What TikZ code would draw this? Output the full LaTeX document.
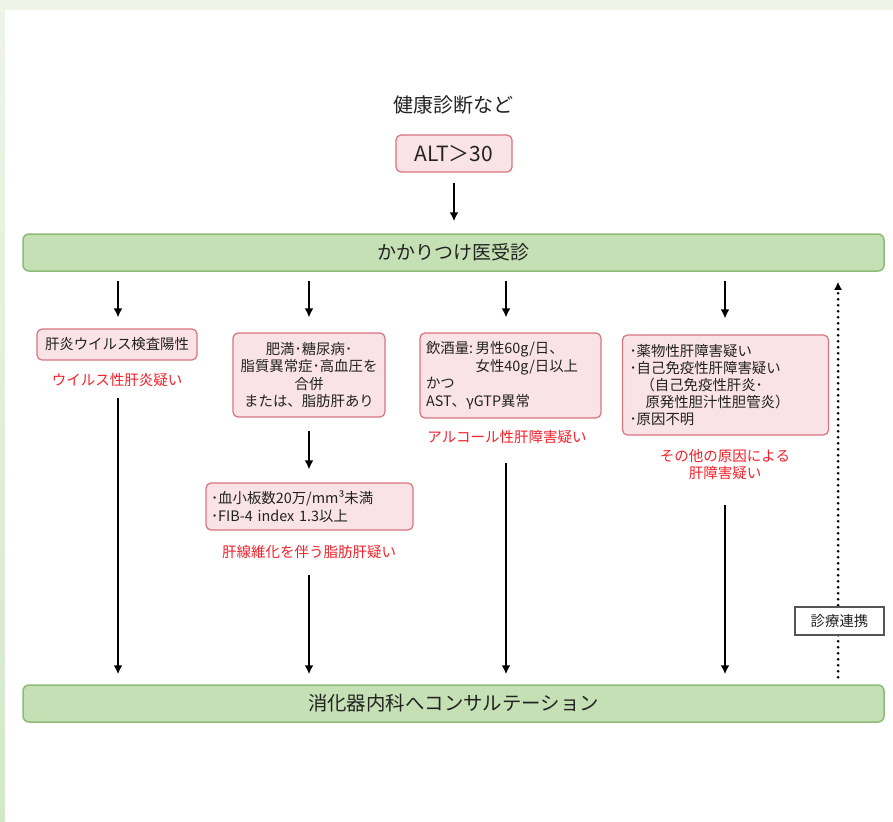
\documentclass[tikz,border=0pt]{standalone}
\usepackage{fontspec}
\setmainfont{Noto Sans CJK JP}
\usetikzlibrary{arrows.meta}
\definecolor{bandgreen}{HTML}{EEF5E8}
\definecolor{stripgreen}{HTML}{D4E8C8}
\definecolor{pinkfill}{HTML}{F9E3E6}
\definecolor{pinkdraw}{HTML}{D9737E}
\definecolor{barfill}{HTML}{C5E0B4}
\definecolor{bardraw}{HTML}{8DBB77}
\definecolor{redtxt}{HTML}{F5212B}
\definecolor{txt}{HTML}{222222}
\definecolor{linkdraw}{HTML}{555555}
\begin{document}
\begin{tikzpicture}[x=1pt,y=-1pt,
  every node/.style={text=txt},
  pinkbox/.style={draw=pinkdraw, fill=pinkfill, rounded corners=5pt, line width=1.2pt, inner sep=0pt, font=\fontsize{14.4}{17.5}\selectfont},
  bar/.style={draw=bardraw, fill=barfill, rounded corners=6pt, line width=1.5pt, minimum width=861pt, minimum height=37pt, inner sep=0pt, font=\fontsize{19}{21}\selectfont},
  redlbl/.style={text=redtxt, font=\fontsize{14.5}{17.5}\selectfont, align=center, inner sep=0pt},
  arr/.style={line width=2.4pt, -{Latex[length=9pt,width=9pt]}},
  dotarr/.style={line width=3pt, line cap=round, dash pattern=on 0pt off 6pt, -{Latex[length=8pt,width=8pt]}},
  linkbox/.style={draw=linkdraw, fill=white, line width=1.2pt, minimum width=89pt, minimum height=28pt, inner sep=0pt, font=\fontsize{14.4}{16}\selectfont}
]
% background
\fill[bandgreen] (0,0) rectangle (893,821);
\shade[top color=bandgreen, bottom color=stripgreen] (0,10) rectangle (5,821);
\fill[white] (5,10) rectangle (893,821);
\useasboundingbox (0,0) rectangle (893,821);

% columns
\coordinate (c1) at (118,0);
\coordinate (c2) at (309,0);
\coordinate (c3) at (506,0);
\coordinate (c4) at (725,0);
\coordinate (c5) at (838,0);

% top
\node[font=\fontsize{20}{22}\selectfont] (top) at (453.5,105) {健康診断など};
\node[pinkbox, minimum width=116pt, minimum height=37pt, font=\fontsize{21}{22}\selectfont] (alt) at (454,153.5) {ALT＞30};
\node[bar] (bar1) at (453.5,252.5) {かかりつけ医受診};
\node[bar, font=\fontsize{19.4}{21}\selectfont] (bar2) at (453.5,703.5) {消化器内科へコンサルテーション};

% column 1
\node[pinkbox, minimum width=160pt, minimum height=31pt] (b1) at (117,344.5) {肝炎ウイルス検査陽性};
\node[redlbl] (r1) at (117,380) {ウイルス性肝炎疑い};

% column 2
\node[pinkbox, minimum width=152pt, minimum height=84pt, align=center] (b2) at (309,375) {肥満･糖尿病･\\脂質異常症･高血圧を\\合併\\または、脂肪肝あり};
\node[pinkbox, minimum width=207pt, minimum height=47pt, inner xsep=5pt, text width=197pt, align=left] (b2b) at (309.5,506.5) {･血小板数20万/mm³未満\\･FIB-4 index 1.3以上};
\node[redlbl] (r2) at (309,552) {肝線維化を伴う脂肪肝疑い};

% column 3
\node[pinkbox, minimum width=181pt, minimum height=85pt, inner xsep=6pt, text width=169pt, align=left] (b3) at (510.5,375.5) {飲酒量:\,男性60g/日、\\\hphantom{飲酒量:\,}女性40g/日以上\\かつ\\AST、γGTP異常};
\node[redlbl] (r3) at (507,437) {アルコール性肝障害疑い};

% column 4
\node[pinkbox, minimum width=206pt, minimum height=100pt, inner xsep=7pt, text width=192pt, align=left, font=\fontsize{14.4}{16.8}\selectfont] (b4) at (725.5,385) {･薬物性肝障害疑い\\･自己免疫性肝障害疑い\\\hspace*{11pt}（自己免疫性肝炎･\\\hspace*{16pt}原発性胆汁性胆管炎）\\･原因不明};
\node[redlbl, font=\fontsize{14.5}{17}\selectfont] (r4) at (725,465) {その他の原因による\\肝障害疑い};

% arrows
\draw[arr, shorten <=10pt, shorten >=12pt] (alt.south) -- (bar1.north -| alt.south);
\draw[arr, shorten <=9pt, shorten >=11pt] (bar1.south -| c1) -- (b1.north -| c1);
\draw[arr, shorten <=9pt, shorten >=15pt] (bar1.south -| c2) -- (b2.north -| c2);
\draw[arr, shorten <=9pt, shorten >=15pt] (bar1.south -| c3) -- (b3.north -| c3);
\draw[arr, shorten <=9pt, shorten >=16pt] (bar1.south -| c4) -- (b4.north -| c4);
\draw[arr, shorten <=13pt, shorten >=13pt] (b2.south -| c2) -- (b2b.north -| c2);

\coordinate (s1) at (118,398);
\coordinate (s2) at (309,575);
\coordinate (s3) at (506,463);
\coordinate (s4) at (725,505);
\draw[arr, shorten >=10pt] (s1) -- (bar2.north -| s1);
\draw[arr, shorten >=10pt] (s2) -- (bar2.north -| s2);
\draw[arr, shorten >=10pt] (s3) -- (bar2.north -| s3);
\draw[arr, shorten >=10pt] (s4) -- (bar2.north -| s4);

% dotted link
\draw[dotarr, shorten <=7pt, shorten >=10pt] (bar2.north -| c5) -- (bar1.south -| c5);
\node[linkbox] (lk) at (839.5,621) {診療連携};
\end{tikzpicture}
\end{document}
